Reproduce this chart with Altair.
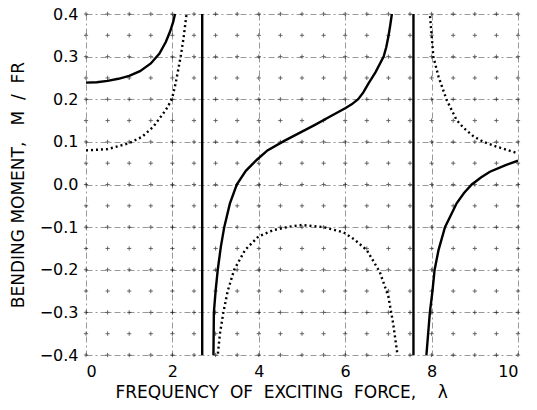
import altair as alt
import pandas as pd

# Solid curve branches
solid_b1_x = [0, 0.25, 0.5, 0.75, 1.0, 1.25, 1.5, 1.7, 1.85, 1.95, 2.02, 2.06, 2.1]
solid_b1_y = [0.239, 0.24, 0.243, 0.248, 0.255, 0.266, 0.284, 0.307, 0.335, 0.36, 0.382, 0.40,
              0.42]
solid_b2_x = [2.945, 2.95, 2.955, 2.96, 3.0, 3.05, 3.12, 3.2, 3.33, 3.49, 3.7, 3.95, 4.2, 4.6,
              5.0, 5.3, 5.64, 6.0, 6.15, 6.3, 6.42, 6.54, 6.7, 6.89, 6.95, 7.0, 7.04, 7.08, 7.1]
solid_b2_y = [-0.45, -0.4, -0.35, -0.3, -0.25, -0.2, -0.147, -0.1, -0.045, 0.0, 0.032, 0.0575,
              0.08, 0.103, 0.124, 0.14, 0.159, 0.179, 0.188, 0.2, 0.216, 0.237, 0.263, 0.3,
              0.322, 0.347, 0.372, 0.4, 0.42]
solid_b3_x = [7.875, 7.88, 7.92, 7.96, 8.02, 8.07, 8.16, 8.31, 8.58, 8.75, 8.93, 9.15, 9.35,
              9.7, 10]
solid_b3_y = [-0.45, -0.4, -0.35, -0.3, -0.25, -0.2, -0.154, -0.1, -0.044, -0.02, 0.0, 0.017,
              0.03, 0.045, 0.056]
# Vertical jumps of the solid curve at the resonances
pole_x = [2.69, 7.58]

# Dotted curve branches
dot_b1_x = [0, 0.5, 1.0, 1.3, 1.56, 1.79, 1.9, 2.0, 2.07, 2.14, 2.2, 2.26, 2.32, 2.35]
dot_b1_y = [0.08, 0.083, 0.097, 0.112, 0.136, 0.167, 0.183, 0.205, 0.235, 0.272, 0.305, 0.345,
            0.394, 0.42]
dot_b2_x = [3.04, 3.05, 3.1, 3.18, 3.28, 3.43, 3.68, 3.99, 4.34, 4.7, 5.0, 5.5, 5.96, 6.2, 6.5,
            6.8, 7.0, 7.11, 7.2, 7.23]
dot_b2_y = [-0.42, -0.4, -0.35, -0.3, -0.25, -0.2, -0.154, -0.122, -0.107, -0.099, -0.095,
            -0.1, -0.112, -0.128, -0.154, -0.205, -0.263, -0.326, -0.392, -0.42]
dot_b3_x = [7.94, 7.96, 8.04, 8.16, 8.35, 8.58, 8.75, 8.97, 9.2, 9.5, 10]
dot_b3_y = [0.43, 0.4, 0.3, 0.253, 0.198, 0.151, 0.132, 0.113, 0.1, 0.089, 0.073]

x_ticks = [0, 2, 4, 6, 8, 10]
y_ticks = [0.4, 0.3, 0.2, 0.1, 0.0, -0.1, -0.2, -0.3, -0.4]
cross_x = [i * 0.5 for i in range(21)]
cross_y = [-0.4 + i * 0.05 for i in range(17)]

NB = "\u00a0"
x_title = f"FREQUENCY{NB}{NB}OF{NB}{NB}EXCITING{NB}{NB}FORCE,{NB}{NB}{NB}{NB}λ"
y_title = f"BENDING{NB}MOMENT,{NB}{NB}{NB}M{NB}{NB}/{NB}{NB}FR"

FONT = "DejaVu Sans"


def branches(parts):
    rows = []
    for b, (xs, ys) in enumerate(parts):
        for i, (x, y) in enumerate(zip(xs, ys)):
            rows.append({"x": x, "y": y, "branch": b, "order": i})
    return pd.DataFrame(rows)


solid_df = branches([(solid_b1_x, solid_b1_y), (solid_b2_x, solid_b2_y), (solid_b3_x, solid_b3_y)])
dot_df = branches([(dot_b1_x, dot_b1_y), (dot_b2_x, dot_b2_y), (dot_b3_x, dot_b3_y)])
pole_df = pd.DataFrame({"x": pole_x, "y": [-0.4] * 2, "y2": [0.4] * 2})
cross_df = pd.DataFrame([{"x": a, "y": round(b, 3)} for a in cross_x for b in cross_y])

xscale = alt.Scale(domain=[0, 10], nice=False, zero=False)
yscale = alt.Scale(domain=[-0.4, 0.4], nice=False, zero=False)

xaxis = alt.Axis(values=x_ticks, title=x_title, format="d",
                 grid=True, gridDash=[6, 3, 2, 3], gridColor="#000", gridOpacity=0.5,
                 gridWidth=0.8, domain=False, ticks=False, labelPadding=8,
                 labelFont=FONT, labelFontSize=16, labelColor="#000",
                 titleFont=FONT, titleFontSize=17, titleFontWeight="normal",
                 titleColor="#000", titleX=29, titleY=42, titleAlign="left",
                 titleBaseline="alphabetic")
yaxis = alt.Axis(values=y_ticks, title=y_title, format=".1f",
                 grid=True, gridDash=[6, 3, 2, 3], gridColor="#000", gridOpacity=0.5,
                 gridWidth=0.8, domain=False, ticks=False, labelPadding=8,
                 labelFont=FONT, labelFontSize=16, labelColor="#000",
                 titleFont=FONT, titleFontSize=17, titleFontWeight="normal",
                 titleColor="#000", titlePadding=12)

crosses = alt.Chart(cross_df).mark_point(
    shape="M -1 0 L 1 0 M 0 -1 L 0 1", size=18, filled=False, color="#000",
    strokeWidth=0.9, opacity=0.65
).encode(x=alt.X("x:Q", scale=xscale, axis=xaxis), y=alt.Y("y:Q", scale=yscale, axis=yaxis))

solid = alt.Chart(solid_df).mark_line(color="#000", strokeWidth=2.4, clip=True).encode(
    x=alt.X("x:Q", scale=xscale), y=alt.Y("y:Q", scale=yscale),
    detail="branch:N", order="order:Q")

dotted = alt.Chart(dot_df).mark_line(color="#000", strokeWidth=2.4, strokeDash=[2, 3],
                                     clip=True).encode(
    x=alt.X("x:Q", scale=xscale), y=alt.Y("y:Q", scale=yscale),
    detail="branch:N", order="order:Q")

poles = alt.Chart(pole_df).mark_rule(color="#000", strokeWidth=2.4).encode(
    x=alt.X("x:Q", scale=xscale), y=alt.Y("y:Q", scale=yscale), y2="y2:Q")

chart = alt.layer(crosses, solid, dotted, poles).properties(
    width=432, height=341,
    autosize=alt.AutoSizeParams(type="none"),
    padding={"left": 78, "top": 6, "right": 11, "bottom": 47},
    background="white",
).configure_view(stroke=None)

chart.save("out.html", embed_options={"renderer": "svg", "actions": False})
